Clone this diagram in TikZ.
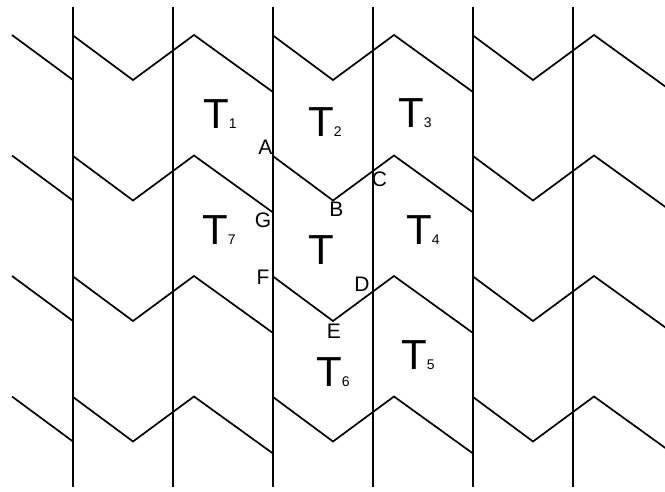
\documentclass[tikz,border=0pt]{standalone}
\usepackage{fontspec}
\setmainfont{Liberation Sans}
\begin{document}
\begin{tikzpicture}[x=1pt,y=-1pt,
  zig/.style={black, line width=1.7pt, line join=miter},
  vline/.style={black, line width=1.7pt},
  bigT/.style={anchor=base west, inner sep=0pt, font=\fontsize{42}{42}\selectfont},
  sub/.style={font=\fontsize{14}{14}\selectfont},
  ptlabel/.style={anchor=center, inner sep=0pt, font=\fontsize{21}{21}\selectfont}]
\useasboundingbox (0,0) rectangle (665,491);
\fill[white] (0,0) rectangle (665,491);
\begin{scope}
\clip (0,0) rectangle (665,491);
\foreach \r in {0,120.5,241,361.5}{
  \draw[zig] (12,35+\r) -- (73,80+\r);
  \foreach \xo in {73,273,473}{
    \draw[zig] (\xo,35.5+\r) -- (\xo+60,80+\r) -- (\xo+121,35+\r) -- (\xo+200,92+\r);
  }
}
\end{scope}
\foreach \x in {73,173,273,373,473,573} \draw[vline] (\x,7) -- (\x,487);
% tile labels
\node[bigT] (t1) at (203,128) {T{\fontsize{14}{14}\selectfont 1}};
\node[bigT] (t2) at (308,136) {T{\fontsize{14}{14}\selectfont 2}};
\node[bigT] (t3) at (398,127) {T{\fontsize{14}{14}\selectfont 3}};
\node[bigT] (t4) at (406,244) {T{\fontsize{14}{14}\selectfont 4}};
\node[bigT] (t5) at (401,369) {T{\fontsize{14}{14}\selectfont 5}};
\node[bigT] (t6) at (316,386) {T{\fontsize{14}{14}\selectfont 6}};
\node[bigT] (t7) at (202,244) {T{\fontsize{14}{14}\selectfont 7}};
\node[bigT] (t0) at (308,264) {T};
% vertex labels
\node[ptlabel] (lA) at (265.5,147.5) {A};
\node[ptlabel] (lB) at (336.5,209) {B};
\node[ptlabel] (lC) at (379.5,179.5) {C};
\node[ptlabel] (lD) at (362,284.5) {D};
\node[ptlabel] (lE) at (334,331.5) {E};
\node[ptlabel] (lF) at (263,277) {F};
\node[ptlabel] (lG) at (263,220) {G};
\end{tikzpicture}
\end{document}
